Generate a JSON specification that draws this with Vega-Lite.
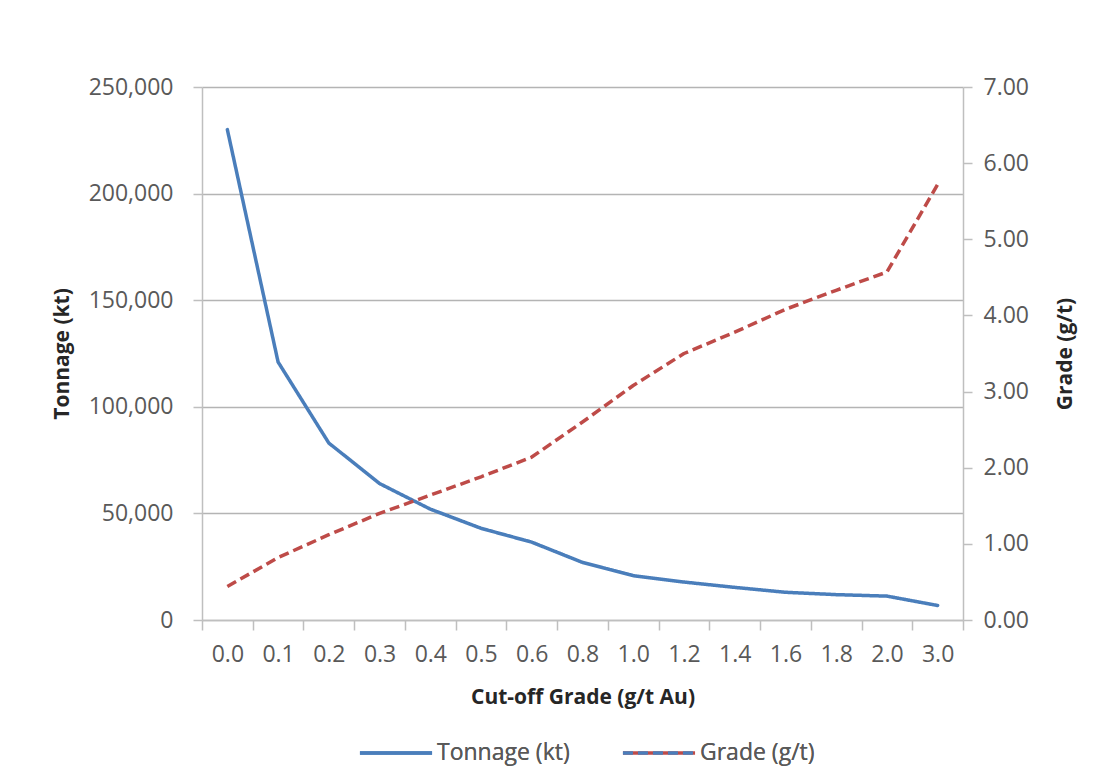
{
  "$schema": "https://vega.github.io/schema/vega-lite/v6.json",
  "autosize": "none",
  "width": 761,
  "height": 533,
  "padding": {"left": 202, "top": 87, "right": 141, "bottom": 156},
  "background": "white",
  "data": {
    "values": [
      {"cutoff": "0.0", "tonnage": 230000, "grade": 0.44},
      {"cutoff": "0.1", "tonnage": 121000, "grade": 0.82},
      {"cutoff": "0.2", "tonnage": 83000, "grade": 1.12},
      {"cutoff": "0.3", "tonnage": 64000, "grade": 1.40},
      {"cutoff": "0.4", "tonnage": 52000, "grade": 1.64},
      {"cutoff": "0.5", "tonnage": 43000, "grade": 1.88},
      {"cutoff": "0.6", "tonnage": 36500, "grade": 2.14},
      {"cutoff": "0.8", "tonnage": 27000, "grade": 2.60},
      {"cutoff": "1.0", "tonnage": 20800, "grade": 3.08},
      {"cutoff": "1.2", "tonnage": 17800, "grade": 3.50},
      {"cutoff": "1.4", "tonnage": 15300, "grade": 3.78},
      {"cutoff": "1.6", "tonnage": 13000, "grade": 4.08},
      {"cutoff": "1.8", "tonnage": 11900, "grade": 4.33},
      {"cutoff": "2.0", "tonnage": 11200, "grade": 4.57},
      {"cutoff": "3.0", "tonnage": 6800, "grade": 5.72}
    ]
  },
  "encoding": {
    "x": {
      "field": "cutoff",
      "type": "ordinal",
      "sort": null,
      "scale": {"type": "band", "paddingInner": 0, "paddingOuter": 0},
      "axis": {
        "title": "Cut-off Grade (g/t Au)",
        "labelAngle": 0,
        "tickBand": "extent",
        "tickSize": 10,
        "labelPadding": 13,
        "titlePadding": 20,
        "grid": false
      }
    }
  },
  "layer": [
    {
      "mark": {"type": "line", "strokeWidth": 3.5, "strokeCap": "round", "strokeJoin": "round"},
      "encoding": {
        "y": {
          "field": "tonnage",
          "type": "quantitative",
          "scale": {"domain": [0, 250000], "nice": false},
          "axis": {
            "title": "Tonnage (kt)",
            "orient": "left",
            "values": [0, 50000, 100000, 150000, 200000, 250000],
            "format": ",.0f",
            "grid": true,
            "gridColor": "#b4b4b4",
            "gridWidth": 1.5,
            "tickSize": 9,
            "labelPadding": 20,
            "titlePadding": 16
          }
        },
        "color": {"datum": "Tonnage (kt)"},
        "strokeDash": {"datum": "Tonnage (kt)", "scale": {"domain": ["Tonnage (kt)", "Grade (g/t)"], "range": [[1, 0], [10, 5]]}}
      }
    },
    {
      "mark": {"type": "line", "strokeWidth": 3.5, "strokeJoin": "round"},
      "encoding": {
        "y": {
          "field": "grade",
          "type": "quantitative",
          "scale": {"domain": [0, 7], "nice": false},
          "axis": {
            "title": "Grade (g/t)",
            "orient": "right",
            "values": [0, 1, 2, 3, 4, 5, 6, 7],
            "format": ".2f",
            "grid": false,
            "tickSize": 9,
            "labelPadding": 11,
            "titleAngle": 270,
            "titleBaseline": "top",
            "titlePadding": 26
          }
        },
        "color": {"datum": "Grade (g/t)"},
        "strokeDash": {"datum": "Grade (g/t)", "scale": {"domain": ["Tonnage (kt)", "Grade (g/t)"], "range": [[1, 0], [10, 5]]}}
      }
    }
  ],
  "resolve": {"scale": {"y": "independent"}},
  "config": {
    "view": {"stroke": null},
    "font": "Open Sans",
    "axis": {
      "labelFont": "Open Sans",
      "labelFontSize": 23,
      "labelColor": "#595959",
      "titleFont": "Open Sans",
      "titleFontSize": 21,
      "titleFontWeight": "bold",
      "titleColor": "#262626",
      "domainColor": "#bfbfbf",
      "domainWidth": 1.5,
      "tickColor": "#bfbfbf",
      "tickWidth": 1.5
    },
    "range": {
      "category": ["#4A7EBB", "#BE4B48"]
    },
    "legend": {
      "orient": "none",
      "legendX": 156,
      "legendY": 628,
      "direction": "horizontal",
      "title": null,
      "labelFont": "Open Sans",
      "labelFontSize": 23,
      "labelColor": "#595959",
      "symbolType": "stroke",
      "symbolSize": 5200,
      "symbolStrokeWidth": 3.5,
      "labelOffset": 3,
      "columnPadding": 45
    }
  }
}
